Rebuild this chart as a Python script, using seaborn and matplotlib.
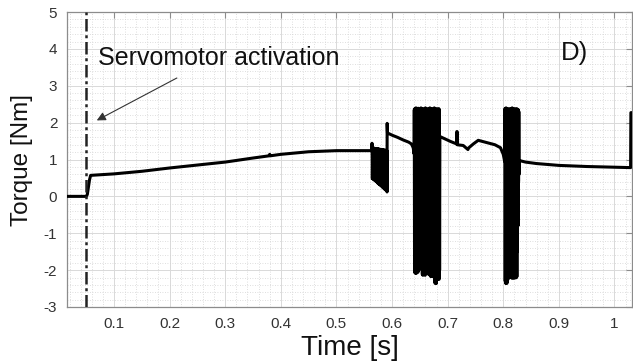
import numpy as np
import pandas as pd
import matplotlib
matplotlib.use("Agg")
import matplotlib.pyplot as plt
from matplotlib.ticker import AutoMinorLocator, FixedLocator
import seaborn as sns

# ---------------- data ----------------
t_rise = [0.0155, 0.0500, 0.0520, 0.0560, 0.0580, 0.1000, 0.1500, 0.2000, 0.2500,
          0.3000, 0.3500, 0.3790, 0.3800, 0.3810, 0.4000, 0.4500, 0.5000, 0.5400, 0.5635]
v_rise = [0.00, 0.00, 0.05, 0.45, 0.57, 0.61, 0.68, 0.77, 0.85,
          0.93, 1.04, 1.10, 1.14, 1.10, 1.14, 1.21, 1.24, 1.24, 1.24]

t_burst_a = [0.5640, 0.5646, 0.5652, 0.5658, 0.5664, 0.5670, 0.5676, 0.5682, 0.5688, 0.5694,
             0.5700, 0.5706, 0.5712, 0.5718, 0.5724, 0.5730, 0.5736, 0.5742, 0.5748, 0.5754,
             0.5760, 0.5766, 0.5772, 0.5778, 0.5784, 0.5790, 0.5796, 0.5802, 0.5808, 0.5814,
             0.5820, 0.5826, 0.5832, 0.5838, 0.5844, 0.5850, 0.5856, 0.5862, 0.5868, 0.5874,
             0.5880, 0.5886, 0.5892, 0.5898, 0.5904, 0.5910]
v_burst_a = [1.44, 0.48, 1.32, 0.47, 1.31, 0.46, 1.31, 0.44, 1.30, 0.43,
             1.30, 0.41, 1.30, 0.40, 1.29, 0.38, 1.29, 0.36, 1.29, 0.35,
             1.28, 0.33, 1.28, 0.32, 1.28, 0.30, 1.27, 0.29, 1.27, 0.27,
             1.27, 0.25, 1.26, 0.24, 1.26, 0.22, 1.26, 0.20, 1.25, 0.19,
             1.25, 0.17, 1.25, 0.16, 1.25, 0.12]

t_mid1 = [0.5912, 0.5918, 0.6000, 0.6100, 0.6200, 0.6300, 0.6350, 0.6380, 0.6398]
v_mid1 = [1.98, 1.72, 1.66, 1.60, 1.53, 1.47, 1.42, 1.32, 1.15]

t_burst_b = [0.6400, 0.6405, 0.6410, 0.6415, 0.6420, 0.6425, 0.6430, 0.6435, 0.6440, 0.6445,
             0.6450, 0.6455, 0.6460, 0.6465, 0.6470, 0.6475, 0.6480, 0.6485, 0.6490, 0.6495,
             0.6500, 0.6505, 0.6510, 0.6515, 0.6520, 0.6525, 0.6530, 0.6535, 0.6540, 0.6545,
             0.6550, 0.6555, 0.6560, 0.6565, 0.6570, 0.6575, 0.6580, 0.6585, 0.6590, 0.6595,
             0.6600, 0.6605, 0.6610, 0.6615, 0.6620, 0.6625, 0.6630, 0.6635, 0.6640, 0.6645,
             0.6650, 0.6655, 0.6660, 0.6665, 0.6670, 0.6675, 0.6680, 0.6685, 0.6690, 0.6695,
             0.6700, 0.6705, 0.6710, 0.6715, 0.6720, 0.6725, 0.6730, 0.6735, 0.6740, 0.6745,
             0.6750, 0.6755, 0.6760, 0.6765, 0.6770, 0.6775, 0.6780, 0.6785, 0.6790, 0.6795,
             0.6800, 0.6805, 0.6810, 0.6815, 0.6820, 0.6825, 0.6830, 0.6835, 0.6840, 0.6845,
             0.6850, 0.6855, 0.6860]
v_burst_b = [2.35, -2.05, 2.38, -2.08, 2.35, -2.02, 2.40, -2.09, 2.35, -2.04,
             2.36, -1.95, 2.35, -2.06, 2.39, -1.90, 2.35, -2.00, 2.35, 0.85,
             2.36, 0.80, 2.35, 1.10, 2.40, 0.79, 2.35, -1.46, 2.36, -2.12,
             2.35, -2.14, 2.38, -2.05, 2.35, -2.10, 2.36, -1.98, 2.35, -2.14,
             2.40, -2.08, 2.35, -0.84, 2.36, -0.60, 2.35, -0.84, 2.38, -2.10,
             2.35, -2.05, 2.36, -2.12, 2.35, -1.20, 2.40, -2.15, 2.35, -2.17,
             2.36, -2.10, 2.35, -2.17, 2.38, -2.00, 2.35, -2.16, 2.36, -2.12,
             2.35, -2.17, 2.40, -2.30, 2.35, -2.36, 2.36, -2.28, 2.35, -2.36,
             2.38, -2.25, 2.35, -2.20, 2.36, -2.25, 2.35, -2.18, 2.38, -2.25,
             2.35, -2.00, 1.62]

t_mid2 = [0.6865, 0.6950, 0.7050, 0.7165, 0.7168, 0.7172, 0.7280, 0.7365, 0.7375,
          0.7460, 0.7550, 0.7700, 0.7850, 0.7950, 0.8000, 0.8025]
v_mid2 = [1.62, 1.56, 1.49, 1.42, 1.76, 1.40, 1.38, 1.27, 1.31,
          1.42, 1.52, 1.46, 1.40, 1.32, 1.14, 0.95]

t_burst_c = [0.8030, 0.8035, 0.8040, 0.8045, 0.8050, 0.8055, 0.8060, 0.8065, 0.8070, 0.8075,
             0.8080, 0.8085, 0.8090, 0.8095, 0.8100, 0.8105, 0.8110, 0.8115, 0.8120, 0.8125,
             0.8130, 0.8135, 0.8140, 0.8145, 0.8150, 0.8155, 0.8160, 0.8165, 0.8170, 0.8175,
             0.8180, 0.8185, 0.8190, 0.8195, 0.8200, 0.8205, 0.8210, 0.8215, 0.8220, 0.8225,
             0.8230, 0.8235, 0.8240, 0.8245, 0.8250, 0.8255, 0.8260, 0.8265, 0.8270, 0.8275,
             0.8280, 0.8285, 0.8290]
v_burst_c = [2.38, -2.30, 2.35, -2.36, 2.40, -2.32, 2.35, -2.36, 2.35, -2.30,
             2.38, -2.25, 2.35, -0.40, 2.36, -0.38, 2.35, -0.30, 2.38, -2.10,
             2.35, -2.20, 2.36, -2.18, 2.35, -2.22, 2.40, -2.20, 2.35, -2.21,
             2.36, -2.20, 2.35, -2.22, 2.38, -2.19, 2.35, -2.20, 2.36, -2.21,
             2.35, -2.20, 2.38, -2.18, 2.35, -1.50, 2.36, -0.80, 2.35, 0.40,
             2.30, 0.60, 0.97]

t_tail = [0.8295, 0.8400, 0.8600, 0.9000, 0.9500, 1.0000, 1.0290, 1.0295, 1.0315]
v_tail = [0.97, 0.93, 0.89, 0.84, 0.81, 0.79, 0.78, 2.27, 2.27]

activation_time = 0.05
x_ticks = [0.1, 0.2, 0.3, 0.4, 0.5, 0.6, 0.7, 0.8, 0.9, 1.0]
x_tick_labels = ["0.1", "0.2", "0.3", "0.4", "0.5", "0.6", "0.7", "0.8", "0.9", "1"]
y_ticks = [-3, -2, -1, 0, 1, 2, 3, 4, 5]

# ---------------- build table ----------------
time = t_rise + t_burst_a + t_mid1 + t_burst_b + t_mid2 + t_burst_c + t_tail
torque = v_rise + v_burst_a + v_mid1 + v_burst_b + v_mid2 + v_burst_c + v_tail
df = pd.DataFrame({"time": time, "torque": torque})

# ---------------- style ----------------
sns.set_style("white")
plt.rcParams["font.family"] = ["Liberation Sans", "DejaVu Sans"]
plt.rcParams["axes.unicode_minus"] = False

fig = plt.figure(figsize=(6.33, 3.63), dpi=100)
ax = fig.add_axes([67 / 633, 1 - 307 / 363, 565 / 633, 295 / 363])

sns.lineplot(data=df, x="time", y="torque", sort=False, estimator=None,
             color="black", linewidth=2.2, ax=ax, zorder=3)

ax.axvline(activation_time, color="#222222", linewidth=1.8,
           linestyle=(0, (5, 1.5, 1.2, 1.5)), zorder=4)

ax.set_xlim(0.0155, 1.0315)
ax.set_ylim(-3, 5)
ax.xaxis.set_major_locator(FixedLocator(x_ticks))
ax.set_xticklabels(x_tick_labels)
ax.set_yticks(y_ticks)
ax.xaxis.set_minor_locator(AutoMinorLocator(5))
ax.yaxis.set_minor_locator(AutoMinorLocator(5))

ax.grid(which="major", color="#d9d9d9", linewidth=0.7, linestyle="-", zorder=0)
ax.grid(which="minor", color="#d4d4d4", linewidth=0.6, linestyle=(0, (1, 2)), zorder=0)
ax.set_axisbelow(True)

for s in ax.spines.values():
    s.set_color("#8c8c8c")
    s.set_linewidth(0.9)

ax.tick_params(which="major", direction="in", length=4, width=0.8, color="#8c8c8c",
               top=True, right=True, labelsize=11, labelcolor="#333333")
ax.tick_params(axis="x", which="major", pad=7)
ax.tick_params(axis="y", which="major", pad=7)
ax.tick_params(which="minor", length=0)

ax.set_xlabel("Time [s]", fontsize=20, color="#111111", labelpad=3)
ax.set_ylabel("Torque [Nm]", fontsize=17.5, color="#111111", labelpad=8)

ax.text(0.0707, 3.57, "Servomotor activation", fontsize=18, color="#111111",
        ha="left", va="baseline", zorder=5)
ax.text(0.9033, 3.69, "D)", fontsize=18.5, color="#111111",
        ha="left", va="baseline", zorder=5)
ax.annotate("", xy=(0.069, 2.06), xytext=(0.213, 3.21),
            arrowprops=dict(arrowstyle="-|>", color="#333333", lw=0.8,
                            mutation_scale=13, shrinkA=0, shrinkB=0), zorder=5)

fig.savefig("out.png", dpi=100)
